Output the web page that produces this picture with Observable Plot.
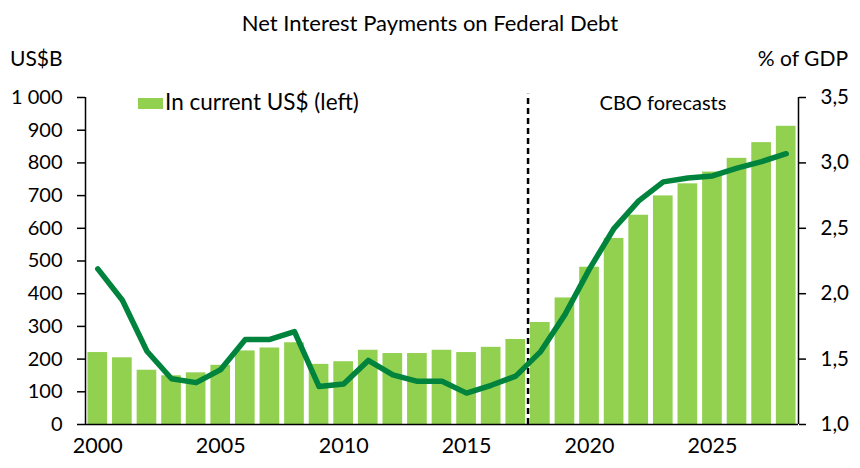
<!DOCTYPE html>
<html><head><meta charset="utf-8">
<script src="https://cdn.jsdelivr.net/npm/d3@7"></script>
<script src="https://cdn.jsdelivr.net/npm/@observablehq/plot@0.6"></script>
<style>
body{margin:0;background:#fff;font-family:Lato, "Open Sans", sans-serif;}
#wrap{position:relative;width:860px;height:468px;overflow:hidden;}
.lbl{position:absolute;font-size:20px;color:#000;white-space:nowrap;line-height:24px;}
#swatch{position:absolute;width:25px;height:11px;background:#92D050;}
</style></head><body>
<div id="wrap">
<div id="chart" style="position:absolute;left:0;top:0"></div>
<div class="lbl" id="title" style="left:0;width:860px;text-align:center;top:11px;font-size:22px">Net Interest Payments on Federal Debt</div>
<div class="lbl" id="lunit" style="left:10px;top:46px;font-size:21px">US$B</div>
<div class="lbl" id="runit" style="right:12px;top:46px;font-size:21px">% of GDP</div>
<div id="swatch" style="left:138px;top:98px"></div>
<div class="lbl" id="legend" style="left:165px;top:90px;font-size:22.5px"></div>
<div class="lbl" id="fcst" style="left:563px;width:200px;text-align:center;top:90px"></div>
</div>
<script>
const years = [2000,2001,2002,2003,2004,2005,2006,2007,2008,2009,2010,2011,2012,2013,2014,2015,2016,2017,2018,2019,2020,2021,2022,2023,2024,2025,2026,2027,2028];
const usdBillions = [220,204,166,149,158,181,225,234,250,184,192,227,217,217,227,220,236,260,312,387,481,569,640,699,736,772,814,862,912];
const pctOfGDP = [2.19,1.95,1.56,1.35,1.32,1.42,1.65,1.65,1.71,1.29,1.31,1.49,1.38,1.33,1.33,1.24,1.30,1.37,1.555,1.84,2.19,2.50,2.71,2.855,2.885,2.90,2.96,3.01,3.07];
const leftTicks = [0,100,200,300,400,500,600,700,800,900,1000];
const rightTicks = [1.0,1.5,2.0,2.5,3.0,3.5];
const xTicks = [2000,2005,2010,2015,2020,2025];
const forecastStart = 2017.5;
const legendLabel = "In current US$ (left)";
const forecastLabel = "CBO forecasts";

document.getElementById("legend").textContent = legendLabel;
document.getElementById("fcst").textContent = forecastLabel;

const data = years.map((y, i) => ({year: y, usd: usdBillions[i], pct: pctOfGDP[i]}));
// right axis (1.0–3.5 % of GDP) mapped onto left axis (0–1000)
const toLeft = p => (p - 1) * 400;
const fromLeft = v => v / 400 + 1;

const chart = Plot.plot({
  width: 860, height: 468,
  marginLeft: 85, marginRight: 62, marginTop: 97, marginBottom: 44,
  style: {fontFamily: "Lato, 'Open Sans', sans-serif", fontSize: "20px", color: "#000", background: "transparent", overflow: "visible"},
  x: {domain: [1999.5, 2028.5]},
  y: {domain: [0, 1000]},
  marks: [
    Plot.rectY(data, {x1: d => d.year - 0.4, x2: d => d.year + 0.4, y1: 0, y2: "usd", fill: "#92D050"}),
    Plot.ruleX([forecastStart], {y1: 0, y2: 1010, stroke: "#000", strokeWidth: 2.5, strokeDasharray: "6,4"}),
    Plot.line(data, {x: "year", y: d => toLeft(d.pct), stroke: "#00843D", strokeWidth: 5.5, strokeLinejoin: "round", strokeLinecap: "round"}),
    Plot.ruleY([0], {stroke: "#000", strokeWidth: 1.5}),
    Plot.ruleX([1999.5], {y1: 0, y2: 1000, stroke: "#000", strokeWidth: 1.5}),
    Plot.ruleX([2028.5], {y1: 0, y2: 1000, stroke: "#000", strokeWidth: 1.5}),
    Plot.axisX(xTicks, {tickSize: 0, tickPadding: 13, tickFormat: d => String(d), fontSize: 21.5, label: null}),
    Plot.axisY(leftTicks, {anchor: "left", tickSize: 8, tickPadding: 15, strokeWidth: 1.5, tickFormat: d => d >= 1000 ? "1 000" : String(d), fontSize: 20, label: null}),
    Plot.axisY(rightTicks.map(toLeft), {anchor: "right", tickSize: 7, tickPadding: 15, strokeWidth: 1.5, tickFormat: d => fromLeft(d).toFixed(1).replace(".", ","), fontSize: 20.5, label: null})
  ]
});
document.getElementById("chart").appendChild(chart);
</script>
</body></html>
